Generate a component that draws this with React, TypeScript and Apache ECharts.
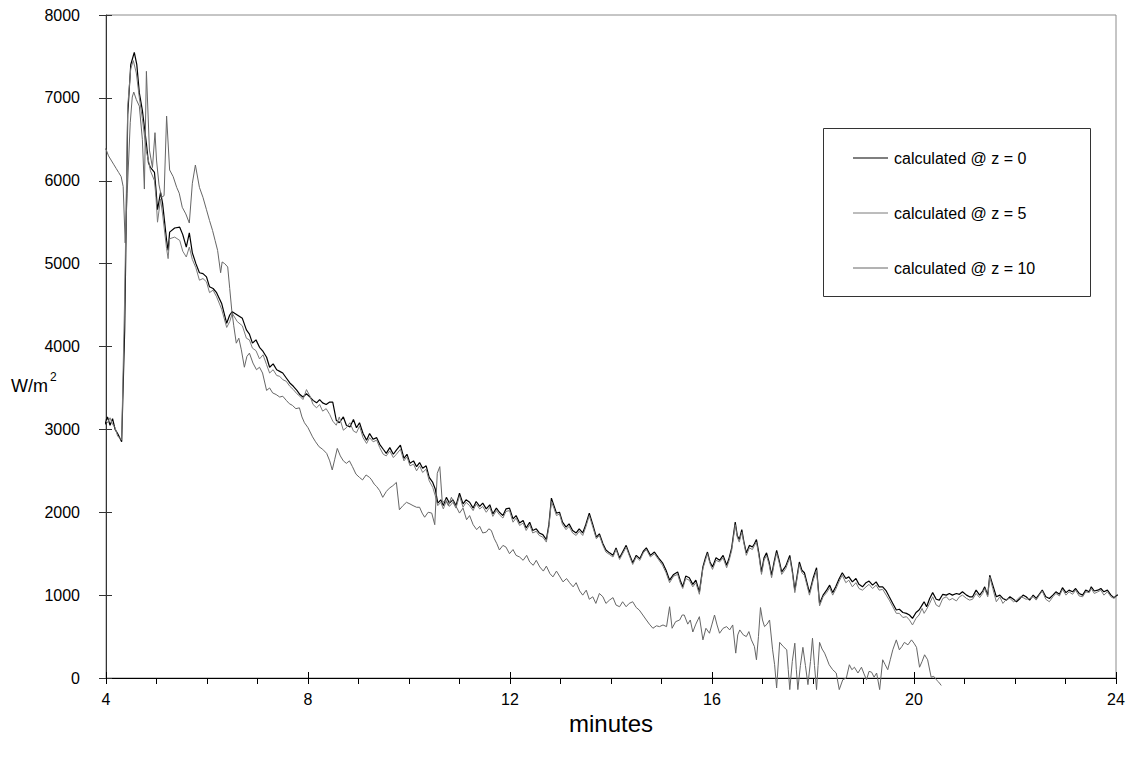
import React, { useEffect, useRef } from "react";
import * as echarts from "echarts";

const seriesNames = ["calculated @ z = 0", "calculated @ z = 5", "calculated @ z = 10"];
const xMin = 4;
const xMax = 24;
const xStep = 4;
const yMin = 0;
const yMax = 8000;
const yStep = 1000;

// [minutes, W/m2]
const z0Data: number[][] = [
  [3.87, 3050], [3.93, 3120], [3.98, 3060], [4.03, 3150], [4.08, 3050], [4.13, 3130], [4.18, 3000], [4.23, 2950], [4.31, 2850],
  [4.37, 4200], [4.43, 6800], [4.49, 7400], [4.56, 7550], [4.61, 7400], [4.66, 7060], [4.72, 6850], [4.80, 6450], [4.84, 6220],
  [4.88, 6160], [4.96, 6100], [4.99, 5890], [5.02, 5650], [5.08, 5860], [5.12, 5730], [5.20, 5280], [5.23, 5160], [5.26, 5380],
  [5.36, 5430], [5.46, 5440], [5.52, 5350], [5.59, 5200], [5.65, 5370], [5.71, 5130], [5.78, 5000], [5.85, 4890], [5.92, 4880],
  [5.99, 4840], [6.05, 4720], [6.12, 4700], [6.19, 4650], [6.29, 4520], [6.39, 4280], [6.45, 4380], [6.50, 4420], [6.60, 4380],
  [6.70, 4340], [6.78, 4200], [6.84, 4150], [6.90, 4040], [6.97, 4080], [7.04, 3990], [7.11, 3940], [7.18, 3870], [7.24, 3750],
  [7.31, 3790], [7.38, 3720], [7.44, 3700], [7.50, 3680], [7.57, 3620], [7.64, 3560], [7.71, 3520], [7.78, 3470], [7.84, 3420],
  [7.90, 3390], [7.97, 3430], [8.04, 3390], [8.10, 3350], [8.17, 3320], [8.23, 3360], [8.29, 3320], [8.36, 3300], [8.43, 3330],
  [8.49, 3330], [8.56, 3110], [8.62, 3080], [8.70, 3150], [8.76, 3050], [8.83, 3030], [8.90, 3120], [8.96, 3020], [9.02, 3080],
  [9.09, 2950], [9.16, 2870], [9.22, 2950], [9.29, 2880], [9.36, 2900], [9.42, 2820], [9.49, 2760], [9.55, 2710], [9.62, 2780],
  [9.69, 2700], [9.75, 2750], [9.83, 2810], [9.90, 2650], [9.96, 2700], [10.02, 2590], [10.09, 2620], [10.15, 2550], [10.21, 2600],
  [10.27, 2530], [10.34, 2560], [10.40, 2420], [10.47, 2360], [10.52, 2280], [10.57, 2110], [10.63, 2150], [10.68, 2080], [10.74, 2180],
  [10.80, 2110], [10.87, 2150], [10.93, 2080], [11.00, 2230], [11.07, 2100], [11.13, 2150], [11.20, 2120], [11.27, 2050], [11.33, 2130],
  [11.40, 2070], [11.46, 2110], [11.53, 2040], [11.60, 2090], [11.66, 1980], [11.73, 2050], [11.79, 2000], [11.86, 1960], [11.92, 2040],
  [11.99, 2050], [12.06, 1920], [12.12, 1960], [12.19, 1870], [12.26, 1900], [12.32, 1810], [12.39, 1880], [12.45, 1780], [12.52, 1800],
  [12.58, 1750], [12.65, 1730], [12.72, 1670], [12.77, 1850], [12.82, 2170], [12.87, 2080], [12.92, 1990], [12.98, 2000], [13.04, 1880],
  [13.11, 1820], [13.17, 1860], [13.24, 1780], [13.31, 1750], [13.37, 1800], [13.44, 1750], [13.50, 1850], [13.57, 1990], [13.64, 1850],
  [13.71, 1700], [13.77, 1740], [13.84, 1620], [13.90, 1545], [13.97, 1510], [14.04, 1480], [14.10, 1570], [14.17, 1450], [14.23, 1520],
  [14.30, 1600], [14.36, 1500], [14.43, 1390], [14.50, 1480], [14.57, 1440], [14.64, 1530], [14.70, 1570], [14.78, 1480], [14.86, 1520],
  [14.94, 1450], [15.02, 1390], [15.09, 1300], [15.16, 1180], [15.24, 1250], [15.32, 1280], [15.37, 1180], [15.42, 1100], [15.48, 1230],
  [15.55, 1210], [15.62, 1130], [15.68, 1180], [15.75, 1040], [15.82, 1340], [15.87, 1450], [15.91, 1520], [15.96, 1400], [16.01, 1340],
  [16.08, 1450], [16.15, 1420], [16.22, 1480], [16.29, 1360], [16.34, 1450], [16.39, 1570], [16.46, 1880], [16.50, 1720], [16.54, 1670],
  [16.59, 1790], [16.63, 1650], [16.68, 1510], [16.74, 1600], [16.80, 1580], [16.84, 1620], [16.88, 1670], [16.93, 1500], [16.98, 1280],
  [17.03, 1450], [17.08, 1510], [17.13, 1400], [17.18, 1240], [17.23, 1400], [17.28, 1540], [17.33, 1420], [17.38, 1280], [17.46, 1350],
  [17.54, 1480], [17.59, 1300], [17.64, 1060], [17.69, 1250], [17.73, 1400], [17.78, 1300], [17.83, 1270], [17.88, 1150], [17.93, 1030],
  [18.00, 1200], [18.07, 1330], [18.13, 900], [18.20, 1000], [18.27, 1060], [18.33, 1120], [18.39, 1030], [18.45, 1100], [18.52, 1200],
  [18.58, 1270], [18.65, 1200], [18.71, 1220], [18.78, 1160], [18.85, 1200], [18.91, 1130], [18.98, 1100], [19.05, 1150], [19.11, 1170],
  [19.18, 1120], [19.25, 1160], [19.31, 1100], [19.38, 1100], [19.45, 1050], [19.51, 980], [19.58, 900], [19.65, 820], [19.71, 830],
  [19.78, 790], [19.85, 780], [19.91, 760], [19.97, 720], [20.04, 790], [20.10, 820], [20.16, 880], [20.20, 920], [20.25, 860],
  [20.31, 960], [20.37, 1030], [20.44, 950], [20.50, 940], [20.57, 1010], [20.64, 1000], [20.70, 1020], [20.76, 1000], [20.84, 1020],
  [20.90, 1010], [20.96, 1040], [21.04, 1000], [21.10, 980], [21.16, 980], [21.23, 1060], [21.30, 1000], [21.36, 1050], [21.40, 1100],
  [21.46, 1000], [21.50, 1240], [21.56, 1120], [21.63, 980], [21.70, 1000], [21.76, 960], [21.83, 940], [21.90, 980], [21.97, 950],
  [22.03, 920], [22.10, 960], [22.16, 1000], [22.22, 980], [22.29, 940], [22.36, 1000], [22.42, 960], [22.48, 1010], [22.54, 1060],
  [22.61, 980], [22.68, 960], [22.75, 1000], [22.81, 1040], [22.88, 1010], [22.94, 1090], [23.01, 1030], [23.07, 1060], [23.14, 1040],
  [23.20, 1080], [23.27, 1020], [23.34, 1000], [23.40, 1060], [23.47, 1040], [23.51, 1100], [23.57, 1050], [23.64, 1060], [23.70, 1080],
  [23.76, 1040], [23.83, 1060], [23.90, 1000], [23.96, 970], [24.02, 1000], [24.07, 1000], [24.13, 1090], [24.19, 980],
];

const z5Data: number[][] = [
  [3.87, 3080], [3.93, 3050], [3.98, 3120], [4.03, 3080], [4.08, 3140], [4.13, 3060], [4.18, 3020], [4.23, 2920], [4.31, 2870],
  [4.37, 4600], [4.43, 6900], [4.49, 7350], [4.54, 7450], [4.60, 7300], [4.66, 7000], [4.72, 6750], [4.80, 6350], [4.84, 6250],
  [4.88, 6120], [4.96, 6000], [4.99, 5800], [5.02, 5500], [5.08, 5780], [5.12, 5600], [5.20, 5180], [5.23, 5060], [5.26, 5300],
  [5.36, 5320], [5.46, 5280], [5.52, 5150], [5.59, 5080], [5.65, 5200], [5.71, 5050], [5.78, 4950], [5.85, 4800], [5.92, 4820],
  [5.99, 4780], [6.05, 4650], [6.12, 4680], [6.19, 4600], [6.29, 4450], [6.39, 4230], [6.45, 4300], [6.50, 4400], [6.60, 4300],
  [6.70, 4250], [6.78, 4100], [6.84, 4080], [6.90, 3980], [6.97, 3950], [7.04, 3850], [7.11, 3900], [7.18, 3780], [7.24, 3680],
  [7.31, 3720], [7.38, 3650], [7.44, 3640], [7.50, 3600], [7.57, 3580], [7.64, 3520], [7.71, 3480], [7.78, 3430], [7.84, 3400],
  [7.90, 3360], [7.97, 3480], [8.04, 3400], [8.10, 3300], [8.17, 3260], [8.23, 3300], [8.29, 3220], [8.36, 3250], [8.43, 3180],
  [8.49, 3100], [8.56, 3050], [8.62, 3150], [8.70, 2990], [8.76, 3020], [8.83, 3080], [8.90, 2980], [8.96, 2960], [9.02, 3040],
  [9.09, 2900], [9.16, 2830], [9.22, 2900], [9.29, 2850], [9.36, 2870], [9.42, 2780], [9.49, 2700], [9.55, 2680], [9.62, 2740],
  [9.69, 2660], [9.75, 2700], [9.83, 2760], [9.90, 2620], [9.96, 2670], [10.02, 2560], [10.09, 2580], [10.15, 2500], [10.21, 2560],
  [10.27, 2480], [10.34, 2520], [10.40, 2380], [10.47, 2300], [10.52, 2200], [10.57, 2080], [10.63, 2120], [10.68, 2040], [10.74, 2140],
  [10.80, 2070], [10.87, 2120], [10.93, 2050], [11.00, 2200], [11.07, 2060], [11.13, 2120], [11.20, 2080], [11.27, 2020], [11.33, 2100],
  [11.40, 2040], [11.46, 2070], [11.53, 2000], [11.60, 2060], [11.66, 1950], [11.73, 2020], [11.79, 1970], [11.86, 1930], [11.92, 2010],
  [11.99, 2020], [12.06, 1880], [12.12, 1930], [12.19, 1840], [12.26, 1870], [12.32, 1780], [12.39, 1850], [12.45, 1750], [12.52, 1770],
  [12.58, 1720], [12.65, 1700], [12.72, 1640], [12.77, 1820], [12.82, 2130], [12.87, 2050], [12.92, 1960], [12.98, 1980], [13.04, 1850],
  [13.11, 1790], [13.17, 1830], [13.24, 1750], [13.31, 1720], [13.37, 1770], [13.44, 1720], [13.50, 1820], [13.57, 1960], [13.64, 1820],
  [13.71, 1680], [13.77, 1720], [13.84, 1600], [13.90, 1520], [13.97, 1490], [14.04, 1460], [14.10, 1550], [14.17, 1430], [14.23, 1500],
  [14.30, 1580], [14.36, 1480], [14.43, 1370], [14.50, 1460], [14.57, 1420], [14.64, 1510], [14.70, 1550], [14.78, 1460], [14.86, 1500],
  [14.94, 1430], [15.02, 1360], [15.09, 1270], [15.16, 1150], [15.24, 1230], [15.32, 1250], [15.37, 1150], [15.42, 1080], [15.48, 1200],
  [15.55, 1180], [15.62, 1100], [15.68, 1150], [15.75, 1010], [15.82, 1320], [15.87, 1420], [15.91, 1500], [15.96, 1380], [16.01, 1310],
  [16.08, 1420], [16.15, 1400], [16.22, 1450], [16.29, 1330], [16.34, 1420], [16.39, 1540], [16.46, 1850], [16.50, 1700], [16.54, 1640],
  [16.59, 1760], [16.63, 1630], [16.68, 1480], [16.74, 1570], [16.80, 1550], [16.84, 1600], [16.88, 1640], [16.93, 1470], [16.98, 1250],
  [17.03, 1420], [17.08, 1480], [17.13, 1370], [17.18, 1210], [17.23, 1370], [17.28, 1510], [17.33, 1390], [17.38, 1250], [17.46, 1320],
  [17.54, 1450], [17.59, 1270], [17.64, 1030], [17.69, 1220], [17.73, 1370], [17.78, 1270], [17.83, 1240], [17.88, 1120], [17.93, 1000],
  [18.00, 1170], [18.07, 1300], [18.13, 870], [18.20, 980], [18.27, 1030], [18.33, 1090], [18.39, 1000], [18.45, 1070], [18.52, 1170],
  [18.58, 1240], [18.65, 1150], [18.71, 1180], [18.78, 1100], [18.85, 1150], [18.91, 1080], [18.98, 1060], [19.05, 1100], [19.11, 1130],
  [19.18, 1080], [19.25, 1120], [19.31, 1060], [19.38, 1070], [19.45, 1000], [19.51, 940], [19.58, 860], [19.65, 780], [19.71, 780],
  [19.78, 730], [19.85, 740], [19.91, 700], [19.97, 640], [20.04, 720], [20.10, 760], [20.16, 840], [20.20, 780], [20.25, 830],
  [20.31, 900], [20.37, 980], [20.44, 880], [20.50, 860], [20.57, 960], [20.64, 980], [20.70, 940], [20.76, 960], [20.84, 930],
  [20.90, 980], [20.96, 1000], [21.04, 960], [21.10, 940], [21.16, 950], [21.23, 1020], [21.30, 970], [21.36, 1020], [21.40, 1080],
  [21.46, 980], [21.50, 1220], [21.56, 1080], [21.63, 920], [21.70, 980], [21.76, 900], [21.83, 950], [21.90, 960], [21.97, 920],
  [22.03, 940], [22.10, 980], [22.16, 970], [22.22, 950], [22.29, 960], [22.36, 980], [22.42, 940], [22.48, 1000], [22.54, 1050],
  [22.61, 950], [22.68, 920], [22.75, 980], [22.81, 1020], [22.88, 990], [22.94, 1070], [23.01, 1000], [23.07, 1040], [23.14, 1010],
  [23.20, 1060], [23.27, 990], [23.34, 980], [23.40, 1040], [23.47, 1030], [23.51, 1080], [23.57, 1020], [23.64, 1040], [23.70, 1060],
  [23.76, 1000], [23.83, 1040], [23.90, 980], [23.96, 960], [24.02, 990], [24.07, 970], [24.13, 1070], [24.19, 1020],
];

const z10Data: number[][] = [
  [3.87, 6430], [3.93, 6400], [4.00, 6380], [4.05, 6300], [4.10, 6250], [4.15, 6200], [4.20, 6150], [4.25, 6100], [4.30, 6050],
  [4.34, 5930], [4.38, 5250], [4.42, 5850], [4.48, 6700], [4.52, 7010], [4.55, 7070], [4.60, 6980], [4.66, 6900], [4.72, 6500],
  [4.76, 5900], [4.80, 7320], [4.86, 6370], [4.92, 6160], [4.97, 6580], [5.00, 6250], [5.05, 5950], [5.10, 5800], [5.15, 5820],
  [5.20, 6780], [5.26, 6130], [5.33, 6050], [5.40, 5920], [5.45, 5850], [5.51, 5680], [5.58, 5600], [5.65, 5490], [5.71, 5970],
  [5.77, 6190], [5.85, 5920], [5.92, 5800], [5.99, 5650], [6.05, 5520], [6.11, 5400], [6.16, 5280], [6.21, 5160], [6.27, 4890],
  [6.30, 5020], [6.35, 5000], [6.41, 4960], [6.45, 4700], [6.49, 4440], [6.53, 4250], [6.58, 4040], [6.63, 4100], [6.68, 3960],
  [6.74, 3750], [6.79, 3880], [6.84, 3920], [6.91, 3800], [6.98, 3720], [7.04, 3750], [7.10, 3680], [7.18, 3470], [7.24, 3500],
  [7.30, 3440], [7.37, 3420], [7.44, 3390], [7.50, 3400], [7.57, 3350], [7.63, 3310], [7.69, 3290], [7.76, 3250], [7.83, 3260],
  [7.88, 3150], [7.93, 3080], [8.00, 3020], [8.09, 2910], [8.15, 2850], [8.22, 2790], [8.29, 2760], [8.37, 2710], [8.43, 2620],
  [8.48, 2510], [8.53, 2640], [8.58, 2770], [8.64, 2680], [8.70, 2620], [8.76, 2590], [8.82, 2620], [8.88, 2550], [8.95, 2460],
  [9.02, 2420], [9.08, 2390], [9.15, 2450], [9.22, 2420], [9.26, 2390], [9.31, 2340], [9.36, 2310], [9.42, 2260], [9.48, 2180],
  [9.55, 2250], [9.61, 2290], [9.68, 2320], [9.75, 2360], [9.81, 2030], [9.88, 2080], [9.95, 2120], [10.02, 2100], [10.08, 2080],
  [10.15, 2060], [10.21, 2060], [10.26, 1990], [10.31, 1940], [10.38, 2000], [10.45, 1990], [10.51, 1850], [10.56, 2470], [10.61, 2550],
  [10.66, 2110], [10.72, 2150], [10.78, 2080], [10.84, 2180], [10.90, 2100], [10.95, 2050], [11.00, 1990], [11.07, 2050], [11.14, 1910],
  [11.20, 1960], [11.27, 1850], [11.34, 1790], [11.40, 1830], [11.46, 1750], [11.53, 1760], [11.58, 1800], [11.63, 1780], [11.69, 1680],
  [11.74, 1620], [11.79, 1545], [11.86, 1600], [11.92, 1580], [11.99, 1500], [12.06, 1550], [12.12, 1480], [12.19, 1460], [12.26, 1420],
  [12.33, 1480], [12.39, 1400], [12.46, 1360], [12.52, 1420], [12.59, 1340], [12.66, 1290], [12.72, 1350], [12.79, 1260], [12.85, 1220],
  [12.92, 1290], [12.98, 1230], [13.05, 1160], [13.12, 1200], [13.18, 1150], [13.25, 1100], [13.31, 1150], [13.38, 1050], [13.44, 1000],
  [13.51, 1060], [13.57, 950], [13.64, 980], [13.70, 900], [13.77, 1020], [13.84, 980], [13.90, 900], [13.97, 940], [14.04, 970],
  [14.10, 880], [14.17, 860], [14.23, 920], [14.30, 860], [14.36, 900], [14.43, 920], [14.50, 850], [14.56, 820], [14.63, 760],
  [14.70, 700], [14.76, 650], [14.83, 600], [14.90, 630], [14.96, 620], [15.03, 640], [15.10, 620], [15.16, 860], [15.21, 600],
  [15.28, 680], [15.36, 700], [15.41, 760], [15.45, 760], [15.52, 650], [15.57, 700], [15.62, 555], [15.68, 650], [15.75, 740],
  [15.82, 460], [15.88, 600], [15.95, 540], [16.00, 650], [16.05, 760], [16.10, 640], [16.15, 540], [16.22, 600], [16.29, 620],
  [16.35, 580], [16.41, 640], [16.47, 300], [16.51, 520], [16.55, 580], [16.62, 520], [16.68, 500], [16.73, 560], [16.78, 460],
  [16.84, 380], [16.88, 220], [16.92, 500], [16.96, 850], [17.00, 700], [17.04, 620], [17.09, 650], [17.14, 700], [17.20, 340],
  [17.24, 160], [17.28, -120], [17.34, 430], [17.41, 380], [17.48, 340], [17.51, 100], [17.54, -140], [17.59, 200], [17.64, 420],
  [17.67, 100], [17.70, -140], [17.75, 150], [17.80, 370], [17.85, 150], [17.90, -80], [17.95, 200], [17.99, 480], [18.03, 150],
  [18.07, -140], [18.10, 150], [18.13, 430], [18.18, 350], [18.23, 300], [18.27, 240], [18.32, 160], [18.39, 100], [18.46, 60],
  [18.52, -140], [18.59, -20], [18.66, 0], [18.72, 160], [18.77, 100], [18.82, 130], [18.89, 60], [18.96, 130], [19.01, 50],
  [19.06, -20], [19.11, 80], [19.16, 70], [19.21, 10], [19.26, 60], [19.32, -140], [19.38, 220], [19.43, 160], [19.48, 100],
  [19.53, 220], [19.58, 340], [19.65, 460], [19.71, 340], [19.76, 380], [19.81, 430], [19.88, 400], [19.95, 460], [20.00, 420],
  [20.05, 370], [20.11, 130], [20.16, 200], [20.21, 280], [20.27, 220], [20.34, 10], [20.39, 20], [20.44, -20], [20.49, -50],
  [20.54, -90],
];

const seriesData = [z0Data, z5Data, z10Data];
const seriesColors = ["#000000", "#7a7a7a", "#666666"];
const seriesWidths = [1.2, 1, 1];

const FONT = "'Liberation Sans', Arial, Helvetica, sans-serif";

export default function App() {
  const ref = useRef<HTMLDivElement>(null);

  useEffect(() => {
    if (!ref.current) return;
    const chart = echarts.init(ref.current, null, { renderer: "svg" });
    const gridLeft = 106;
    const gridTop = 15;
    const gridW = 1010;
    const gridH = 663;

    // legend drawn as graphic elements (line sample + label)
    const legX = 853;
    const legY0 = 158;
    const legStep = 55;
    const legendGraphics: any[] = [];
    seriesNames.forEach((name, i) => {
      const y = legY0 + i * legStep;
      legendGraphics.push({
        type: "line",
        shape: { x1: legX, y1: y, x2: legX + 35, y2: y },
        style: { stroke: seriesColors[i], lineWidth: seriesWidths[i] },
        z: 10,
      });
      legendGraphics.push({
        type: "text",
        x: legX + 41,
        y: y,
        style: {
          text: name,
          fontSize: 16,
          fill: "#000",
          fontFamily: FONT,
          textVerticalAlign: "middle",
          verticalAlign: "middle",
        },
        z: 10,
      });
    });

    chart.setOption({
      animation: false,
      backgroundColor: "#ffffff",
      textStyle: { fontFamily: FONT, color: "#000" },
      grid: {
        left: gridLeft,
        top: gridTop,
        width: gridW,
        height: gridH,
        show: true,
        borderColor: "#8c8c8c",
        borderWidth: 1,
        backgroundColor: "transparent",
      },
      xAxis: [
        {
          type: "value",
          min: xMin,
          max: xMax,
          interval: xStep,
          position: "bottom",
          axisLine: { show: true, onZero: false, lineStyle: { color: "#000", width: 1 } },
          axisTick: { show: true, length: 6, lineStyle: { color: "#000", width: 1 } },
          minorTick: { show: true, splitNumber: 4, length: 6, lineStyle: { color: "#000", width: 1 } },
          splitLine: { show: false },
          minorSplitLine: { show: false },
          axisLabel: { fontSize: 16, color: "#000", margin: 13, fontFamily: FONT, formatter: (v: number) => String(v) },
          name: "minutes",
          nameLocation: "middle",
          nameGap: 23,
          nameTextStyle: { fontSize: 24, color: "#000", fontFamily: FONT, verticalAlign: "top" },
        },
        {
          type: "value",
          min: xMin,
          max: xMax,
          interval: xStep,
          position: "bottom",
          axisLine: { show: false, onZero: false },
          axisTick: { show: true, inside: true, length: 6, lineStyle: { color: "#000", width: 1 } },
          axisLabel: { show: false },
          splitLine: { show: false },
        },
      ],
      yAxis: [
        {
          type: "value",
          min: yMin,
          max: yMax,
          interval: yStep,
          position: "left",
          axisLine: { show: true, onZero: false, lineStyle: { color: "#333", width: 1 } },
          axisTick: { show: true, length: 7, lineStyle: { color: "#333", width: 1 } },
          splitLine: { show: false },
          axisLabel: { fontSize: 16, color: "#000", margin: 26, fontFamily: FONT, formatter: (v: number) => String(v) },
        },
        {
          type: "value",
          min: yMin,
          max: yMax,
          interval: yStep,
          position: "left",
          axisLine: { show: false, onZero: false },
          axisTick: { show: true, inside: true, length: 6, lineStyle: { color: "#333", width: 1 } },
          axisLabel: { show: false },
          splitLine: { show: false },
        },
      ],
      graphic: [
        {
          type: "rect",
          shape: { x: 823.5, y: 128.5, width: 267, height: 168 },
          style: { fill: "#fff", stroke: "#333", lineWidth: 1 },
          z: 5,
        },
        ...legendGraphics,
        {
          type: "text",
          x: 11,
          y: 377,
          style: { text: "W/m", fontSize: 18, fill: "#000", fontFamily: FONT },
        },
        {
          type: "text",
          x: 50,
          y: 371,
          style: { text: "2", fontSize: 12, fill: "#000", fontFamily: FONT },
        },
      ],
      series: seriesNames.map((name, i) => ({
        name,
        type: "line",
        data: seriesData[i],
        xAxisIndex: 0,
        yAxisIndex: 0,
        symbol: "none",
        showSymbol: false,
        clip: false,
        lineStyle: { color: seriesColors[i], width: seriesWidths[i] },
        itemStyle: { color: seriesColors[i] },
        emphasis: { disabled: true },
      })),
    });

    return () => chart.dispose();
  }, []);

  return (
    <div
      ref={ref}
      style={{ position: "absolute", left: 0, top: 0, width: 1131, height: 761, background: "#fff" }}
    />
  );
}
